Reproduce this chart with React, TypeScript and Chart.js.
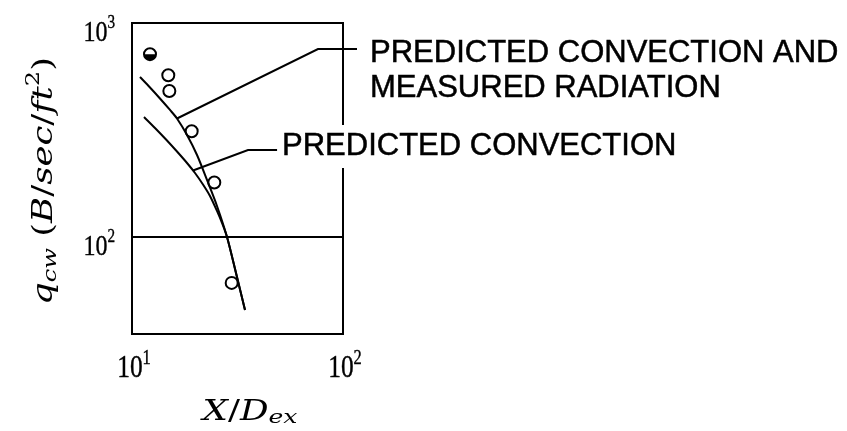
import React, { useEffect, useRef } from "react";
import { Chart, registerables } from "chart.js";
Chart.register(...registerables);

// ---- data (log-log axes) ----
const xTickValues = [10, 100];
const xTickExponents = ["1", "2"];
const yTickValues = [100, 1000];
const yTickExponents = ["2", "3"];
const gridLineValues = [100];

const measuredX = [12.17, 14.86, 15.03, 19.18, 24.55, 29.68];
const measuredY = [715, 570, 481, 312, 179.8, 61.0];

// predicted convection and measured radiation
const convRadX = [10.91, 12.17, 13.57, 15.14, 16.34, 18.23, 20.33, 22.67, 25.28, 28.2, 31.11, 34.32];
const convRadY = [559.4, 499.5, 443.9, 392.3, 357.9, 299.6, 241.6, 184.7, 139.6, 100, 67.9, 45.6];

// predicted convection
const convX = [11.4, 12.85, 14.5, 16.34, 18.23, 19.89, 21.7, 23.42, 25.28, 26.7, 28.2, 31.11, 34.32];
const convY = [363.7, 323.2, 285.5, 250.9, 221.7, 199.1, 175.9, 155.5, 132.3, 116.3, 100, 67.9, 45.6];

const leaderUpperX = [16.34, 76.1, 116.5];
const leaderUpperY = [357.9, 756, 756];
const leaderLowerX = [19.46, 35.46, 48.7];
const leaderLowerY = [204.5, 255, 255];

const labelUpper = ["PREDICTED CONVECTION AND", "MEASURED RADIATION"];
const labelLower = ["PREDICTED CONVECTION"];

const X_MIN = 10;
const X_MAX = 100;
const Y_MIN = 35.2;
const Y_MAX = 1000;

const zip = (xs: number[], ys: number[]) => xs.map((x, i) => ({ x, y: ys[i] }));

const TICK_FONT = '"Liberation Serif", "Times New Roman", serif';
const TITLE_FONT = '"DejaVu Serif", serif';
const SANS = '"Liberation Sans", Arial, sans-serif';

type Piece = { t: string; size: number; italic?: boolean; dy?: number };

function drawPieces(
  ctx: CanvasRenderingContext2D,
  pieces: Piece[],
  family: string,
  x: number,
  y: number,
  align: "left" | "center" | "right",
  opts: { targetWidth?: number; scaleX?: number; stroke?: number } = {}
) {
  const font = (p: Piece) => `${p.italic ? "italic " : ""}${p.size}px ${family}`;
  let natural = 0;
  const widths = pieces.map((p) => {
    ctx.font = font(p);
    const w = ctx.measureText(p.t).width;
    natural += w;
    return w;
  });
  const sx = opts.targetWidth ? opts.targetWidth / natural : opts.scaleX || 1;
  const total = natural * sx;
  const start = align === "left" ? x : align === "center" ? x - total / 2 : x - total;
  ctx.save();
  ctx.translate(start, y);
  ctx.scale(sx, 1);
  ctx.textAlign = "left";
  ctx.textBaseline = "alphabetic";
  ctx.strokeStyle = "#000";
  ctx.fillStyle = "#000";
  let cx = 0;
  pieces.forEach((p, i) => {
    ctx.font = font(p);
    ctx.fillText(p.t, cx, p.dy || 0);
    if (opts.stroke) {
      ctx.lineWidth = opts.stroke;
      ctx.strokeText(p.t, cx, p.dy || 0);
    }
    cx += widths[i];
  });
  ctx.restore();
}

const decorPlugin = {
  id: "decor",
  beforeDatasetsDraw(chart: any) {
    const { ctx, chartArea: a, scales } = chart;
    ctx.save();
    ctx.strokeStyle = "#000";
    ctx.lineWidth = 2;
    ctx.lineCap = "square";
    // border with a gap on the right side where the lower label crosses it
    const gapTop = 124;
    const gapBottom = 169;
    ctx.beginPath();
    ctx.moveTo(a.right, gapTop);
    ctx.lineTo(a.right, a.top);
    ctx.lineTo(a.left, a.top);
    ctx.lineTo(a.left, a.bottom);
    ctx.lineTo(a.right, a.bottom);
    ctx.lineTo(a.right, gapBottom);
    ctx.stroke();
    // horizontal grid line(s)
    gridLineValues.forEach((v) => {
      const py = scales.y.getPixelForValue(v);
      ctx.beginPath();
      ctx.moveTo(a.left, py);
      ctx.lineTo(a.right, py);
      ctx.stroke();
    });
    ctx.restore();
  },
  afterDatasetsDraw(chart: any) {
    const { ctx, scales } = chart;
    ctx.save();
    ctx.fillStyle = "#000";
    // half-filled first measured point
    const meta = chart.getDatasetMeta(4);
    const el = meta.data[0];
    if (el) {
      ctx.beginPath();
      ctx.arc(el.x, el.y, 6, 0, Math.PI);
      ctx.closePath();
      ctx.fill();
    }
    // tick labels
    xTickValues.forEach((v, i) => {
      const px = scales.x.getPixelForValue(v);
      drawPieces(ctx, [
        { t: "10", size: 31 },
        { t: xTickExponents[i], size: 20, dy: -13 },
      ], TICK_FONT, px + 2, 377, "center", { scaleX: 0.82, stroke: 0.4 });
    });
    yTickValues.forEach((v, i) => {
      const py = scales.y.getPixelForValue(v);
      drawPieces(ctx, [
        { t: "10", size: 30 },
        { t: yTickExponents[i], size: 19, dy: -13 },
      ], TICK_FONT, 115, py + 18, "right", { scaleX: 0.8, stroke: 0.4 });
    });
    // x title
    drawPieces(ctx, [
      { t: "X", size: 27, italic: true },
      { t: "/", size: 27 },
      { t: "D", size: 27, italic: true },
      { t: "ex", size: 19, italic: true, dy: 3 },
    ], TITLE_FONT, 250, 420, "center", { targetWidth: 95 });
    // y title (rotated)
    ctx.save();
    ctx.translate(52, 181);
    ctx.rotate(-Math.PI / 2);
    drawPieces(ctx, [
      { t: "q", size: 28, italic: true },
      { t: "cw", size: 19, italic: true, dy: 4 },
      { t: " (", size: 28 },
      { t: "B", size: 28, italic: true },
      { t: "/", size: 28 },
      { t: "sec", size: 28, italic: true },
      { t: "/", size: 28 },
      { t: "ft", size: 28, italic: true },
      { t: "2", size: 19, dy: -13 },
      { t: ")", size: 28 },
    ], TITLE_FONT, 0, 0, "center", { targetWidth: 248 });
    ctx.restore();
    // annotation labels
    ctx.font = `31px ${SANS}`;
    ctx.textAlign = "left";
    ctx.textBaseline = "alphabetic";
    ctx.lineWidth = 0.5;
    ctx.strokeStyle = "#000";
    const labels: [string, number, number][] = [
      [labelUpper[0], 370, 62],
      [labelUpper[1], 370, 97],
      [labelLower[0], 282, 155],
    ];
    labels.forEach(([t, x, y]) => {
      ctx.fillText(t, x, y);
      ctx.strokeText(t, x, y);
    });
    ctx.restore();
  },
};

export default function App() {
  const ref = useRef<HTMLCanvasElement | null>(null);
  useEffect(() => {
    document.body.style.margin = "0";
    const canvas = ref.current;
    if (!canvas) return;
    const lineStyle = {
      showLine: true,
      borderColor: "#000",
      borderWidth: 2,
      pointRadius: 0,
      pointHoverRadius: 0,
      fill: false,
    };
    const chart = new Chart(canvas, {
      type: "scatter",
      data: {
        datasets: [
          { ...lineStyle, label: "conv+rad", data: zip(convRadX, convRadY), tension: 0.3 } as any,
          { ...lineStyle, label: "conv", data: zip(convX, convY), tension: 0.3 } as any,
          { ...lineStyle, label: "leader1", data: zip(leaderUpperX, leaderUpperY), clip: false, tension: 0 } as any,
          { ...lineStyle, label: "leader2", data: zip(leaderLowerX, leaderLowerY), clip: false, tension: 0 } as any,
          {
            label: "measured",
            data: zip(measuredX, measuredY),
            showLine: false,
            pointStyle: "circle",
            pointRadius: 6,
            pointBorderWidth: 2,
            pointBackgroundColor: "#fff",
            pointBorderColor: "#000",
            clip: false,
          } as any,
        ],
      },
      options: {
        animation: false,
        responsive: false,
        events: [],
        layout: { padding: { left: 132, top: 23, right: 504, bottom: 97 } },
        plugins: { legend: { display: false }, tooltip: { enabled: false } },
        scales: {
          x: { type: "logarithmic", min: X_MIN, max: X_MAX, display: false },
          y: { type: "logarithmic", min: Y_MIN, max: Y_MAX, display: false },
        },
      },
      plugins: [decorPlugin],
    });
    return () => chart.destroy();
  }, []);
  return (
    <div style={{ width: 847, height: 431, background: "#fff" }}>
      <canvas ref={ref} width={847} height={431} style={{ display: "block" }} />
    </div>
  );
}
